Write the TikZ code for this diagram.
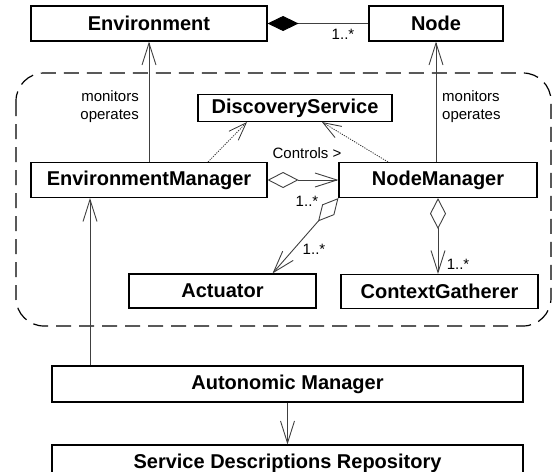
\documentclass[tikz,border=0pt]{standalone}
\usepackage{fontspec}
\setmainfont{Liberation Sans}
\usetikzlibrary{arrows.meta}
\begin{document}
\begin{tikzpicture}[x=1pt,y=-1pt,
  box/.style={draw=black, line width=1.1pt, fill=white, inner sep=0pt,
    font=\fontsize{20}{24}\selectfont\bfseries},
  lbl/.style={font=\fontsize{15}{18}\selectfont, inner sep=1pt},
  conn/.style={draw=black!75, line width=0.9pt},
  dotconn/.style={draw=black!80, line width=0.8pt, dash pattern=on 1.2pt off 1.2pt},
  barb/.style={-{Straight Barb[length=22pt,width=14pt]}},
  dbarb/.style={-{Straight Barb[length=18pt,width=13pt]}},
  fdia/.style={{Diamond[length=31pt,width=15pt,color=black,fill=black]}-},
  odiabarb/.style={{Diamond[open,length=31pt,width=16pt]}-{Straight Barb[length=22pt,width=14pt]}}
]
\useasboundingbox (0,0) rectangle (553,471);
\clip (0,0) rectangle (553,471);

% dashed boundary
\draw[black, line width=1.2pt, dash pattern=on 15pt off 8pt, rounded corners=28pt]
  (16,73) rectangle (551,326);

% boxes
\node[box, minimum width=236pt, minimum height=35pt] (env) at (149,23.5) {Environment};
\node[box, minimum width=134pt, minimum height=35pt] (node) at (436,23.5) {Node};
\node[box, minimum width=194pt, minimum height=27pt] (ds) at (295,108) {DiscoveryService};
\node[box, minimum width=236pt, minimum height=35pt] (em) at (149,180) {EnvironmentManager};
\node[box, minimum width=198pt, minimum height=35pt] (nm) at (438,180) {NodeManager};
\node[box, minimum width=187pt, minimum height=34pt] (act) at (222.5,291) {Actuator};
\node[box, minimum width=197pt, minimum height=34pt] (cg) at (439.5,291.5) {ContextGatherer};
\node[box, minimum width=471pt, minimum height=36pt] (am) at (287.5,384) {Autonomic Manager};
\node[box, minimum width=471pt, minimum height=36pt] (sdr) at (287.5,463) {Service Descriptions Repository};

% connectors
\draw[conn, fdia] (env.east) -- (node.west);
\draw[conn, barb] (em.north) -- (env.south);
\draw[conn, barb] (node.south |- nm.north) -- (node.south);
\draw[conn, odiabarb] (em.east) -- (nm.west);
\coordinate (actin) at ([xshift=50pt]act.north);
\draw[conn, odiabarb] (nm.south west) -- (actin);
\draw[conn, odiabarb] (nm.south) -- (nm.south |- cg.north);
\draw[dotconn, dbarb] ([xshift=59pt]em.north) -- ([xshift=-48pt]ds.south);
\draw[dotconn, dbarb] ([xshift=-50pt]nm.north) -- ([xshift=27pt]ds.south);
\coordinate (amx) at ([xshift=-197.5pt]am.north);
\draw[conn, barb] (amx) -- (amx |- em.south);
\draw[conn, barb] (am.south) -- (sdr.north);

% labels
\node[lbl, align=right, anchor=east] (lm) at (140,107) {monitors\\operates};
\node[lbl, align=left, anchor=west] (rm) at (441,107) {monitors\\operates};
\node[lbl] (ctrl) at (307,153) {Controls >};
\node[lbl] (m1) at (343,34) {1..*};
\node[lbl] (m2) at (307,201) {1..*};
\node[lbl] (m3) at (314,249) {1..*};
\node[lbl, fill=white] (m4) at (458,264) {1..*};
\end{tikzpicture}
\end{document}
